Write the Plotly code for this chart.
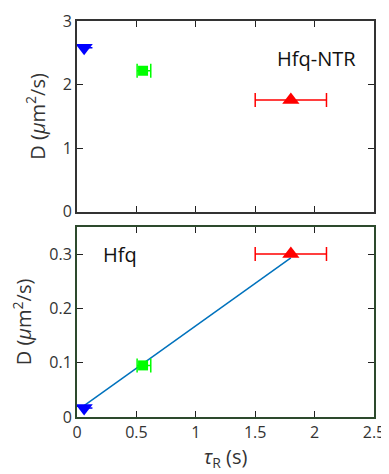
import plotly.graph_objects as go

# Data
tau_R = [0.06, 0.556, 1.80]
tau_err_minus = [0.02, 0.05, 0.30]
tau_err_plus = [0.07, 0.065, 0.30]
D_ntr = [2.58, 2.22, 1.76]
D_hfq = [0.0165, 0.095, 0.300]
colors = ["#0000ff", "#00ff00", "#ff0000"]
symbols = ["triangle-down", "square", "triangle-up"]
sizes = [15, 10, 15]
fit_x = [0.06, 1.80]
fit_y = [0.021, 0.293]

x_ticks = [0, 0.5, 1, 1.5, 2, 2.5]
x_ticktext = ["0", "0.5", "1", "1.5", "2", "2.5"]
top_yticks = [0, 1, 2, 3]
bot_yticks = [0, 0.1, 0.2, 0.3]
bot_yticktext = ["0", "0.1", "0.2", "0.3"]

fig = go.Figure()

# fit line (bottom)
fig.add_trace(go.Scatter(x=fit_x, y=fit_y, mode="lines",
                         line=dict(color="#0072bd", width=1.5),
                         xaxis="x2", yaxis="y2", showlegend=False))

for i in range(3):
    for (yv, xa, ya) in [(D_ntr, "x", "y"), (D_hfq, "x2", "y2")]:
        fig.add_trace(go.Scatter(
            x=[tau_R[i]], y=[yv[i]], mode="markers",
            marker=dict(symbol=symbols[i], size=sizes[i], color=colors[i],
                        line=dict(width=0)),
            error_x=dict(type="data", symmetric=False,
                         array=[tau_err_plus[i]], arrayminus=[tau_err_minus[i]],
                         color=colors[i], thickness=1.5,
                         width=0 if i == 0 else 7),
            xaxis=xa, yaxis=ya, showlegend=False))

font_family = "Open Sans, Noto Sans, sans-serif"
axis_common = dict(ticks="inside", ticklen=6, tickwidth=1.2, tickcolor="#222",
                   showline=True, linewidth=2, mirror="ticks",
                   showgrid=False, zeroline=False, automargin=False,
                   tickfont=dict(size=16, color="#333", family=font_family))
title_font = dict(size=20, color="#333", family=font_family)
y_title = "D (<i>μ</i>m<sup>2</sup>/s)"

fig.update_layout(
    width=381, height=466,
    margin=dict(l=69, r=15, t=13, b=57, autoexpand=False),
    paper_bgcolor="white", plot_bgcolor="white",
    xaxis=dict(range=[0, 2.5], tickvals=x_ticks, showticklabels=False,
               anchor="y", linecolor="#333", **axis_common),
    yaxis=dict(range=[0, 3], tickvals=top_yticks, domain=[0.518, 1],
               anchor="x", linecolor="#333",
               title=dict(text=y_title, standoff=12, font=title_font),
               **axis_common),
    xaxis2=dict(range=[0, 2.5], tickvals=x_ticks, ticktext=x_ticktext,
                anchor="y2", linecolor="#2d4a2d",
                title=dict(text="<i>τ</i><sub>R</sub> (s)", standoff=4,
                           font=title_font),
                **axis_common),
    yaxis2=dict(range=[0, 0.35], tickvals=bot_yticks, ticktext=bot_yticktext,
                domain=[0, 0.48], anchor="x2", linecolor="#2d4a2d",
                title=dict(text=y_title, standoff=12, font=title_font),
                **axis_common),
    annotations=[
        dict(text="Hfq-NTR", x=0.945, y=0.905, xref="paper", yref="paper",
             xanchor="right", yanchor="middle", showarrow=False,
             font=dict(size=20, color="#111", family=font_family)),
        dict(text="Hfq", x=0.08, y=0.41, xref="paper", yref="paper",
             xanchor="left", yanchor="middle", showarrow=False,
             font=dict(size=20, color="#111", family=font_family)),
    ],
)

fig.write_html("out.html")
